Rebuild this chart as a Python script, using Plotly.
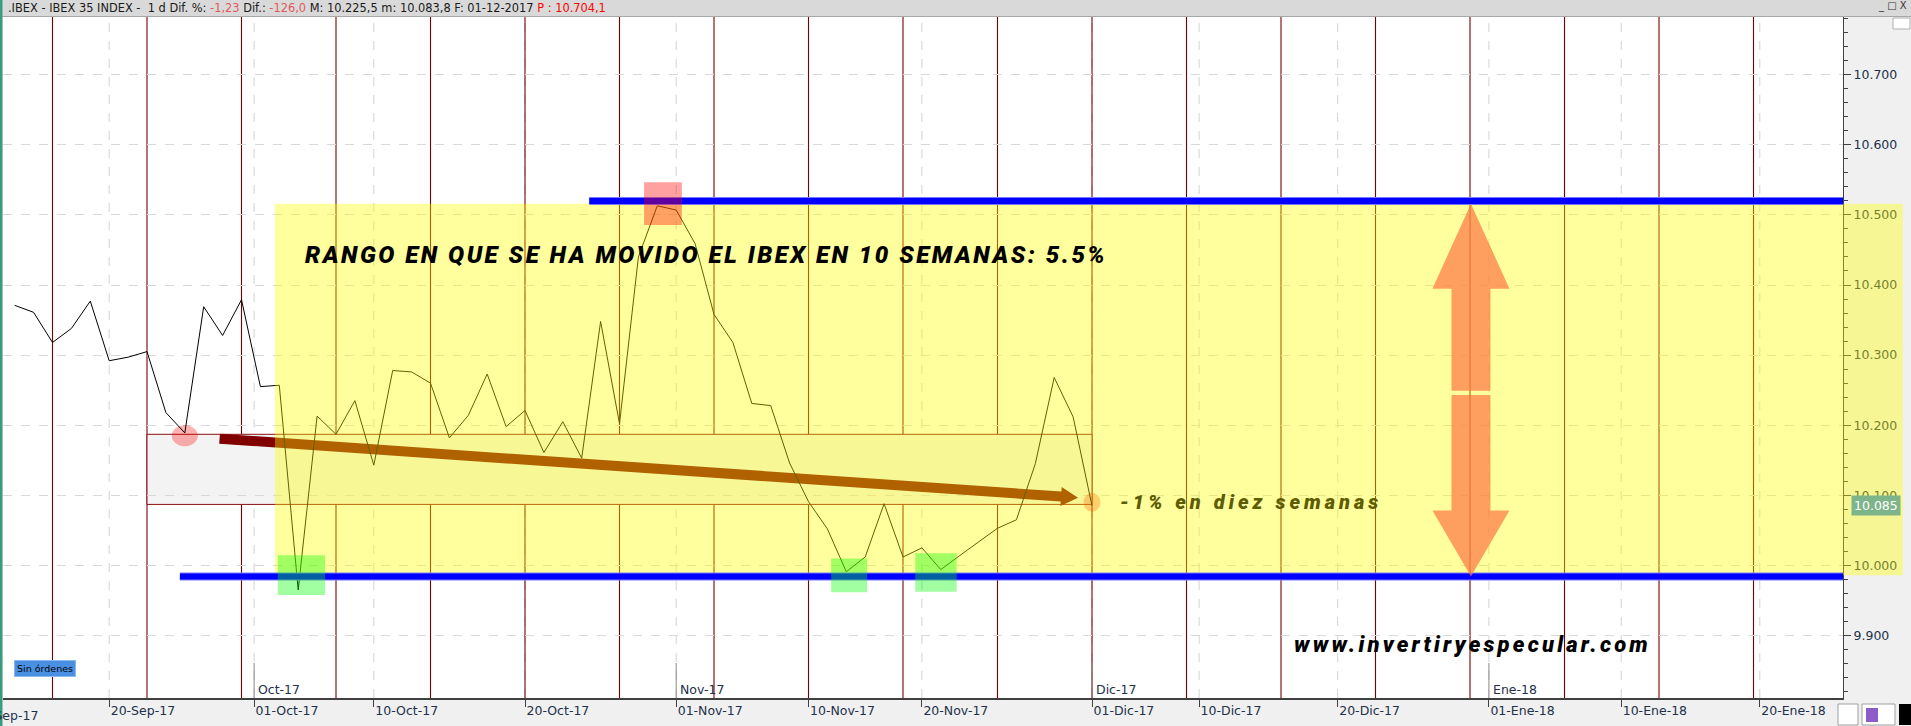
import numpy as np
import pandas as pd
import plotly.graph_objects as go

# ---------------- data ----------------
dates = ["2017-09-13", "2017-09-14", "2017-09-15", "2017-09-18", "2017-09-19", "2017-09-20",
         "2017-09-21", "2017-09-22", "2017-09-25", "2017-09-26", "2017-09-27", "2017-09-28",
         "2017-09-29",
         "2017-10-02", "2017-10-03", "2017-10-04", "2017-10-05", "2017-10-06", "2017-10-09",
         "2017-10-10", "2017-10-11", "2017-10-12", "2017-10-13", "2017-10-16", "2017-10-17",
         "2017-10-18", "2017-10-19", "2017-10-20", "2017-10-23", "2017-10-24", "2017-10-25",
         "2017-10-26", "2017-10-27", "2017-10-30", "2017-10-31",
         "2017-11-01", "2017-11-02", "2017-11-03", "2017-11-06", "2017-11-07", "2017-11-08",
         "2017-11-09", "2017-11-10", "2017-11-13", "2017-11-14", "2017-11-15", "2017-11-16",
         "2017-11-17", "2017-11-20", "2017-11-21", "2017-11-22", "2017-11-23", "2017-11-24",
         "2017-11-27", "2017-11-28", "2017-11-29", "2017-11-30",
         "2017-12-01"]
close = [10371, 10361, 10318, 10338, 10377, 10292, 10297, 10305, 10218, 10189, 10369, 10328,
         10379,
         10255, 10257, 9965, 10213, 10187, 10235, 10143, 10278, 10276, 10260, 10182, 10214,
         10273, 10198, 10221, 10161, 10205, 10153, 10348, 10202, 10440, 10513,
         10507, 10459, 10358, 10318, 10231, 10228, 10146, 10091, 10052, 9991, 10012, 10088,
         10012, 10025, 9994, 10014, 10034, 10053, 10065, 10145, 10268, 10212,
         10085]

tick_dates = ["2017-09-10", "2017-09-20", "2017-10-01", "2017-10-10", "2017-10-20", "2017-11-01",
              "2017-11-10", "2017-11-20", "2017-12-01", "2017-12-10", "2017-12-20", "2018-01-01",
              "2018-01-10", "2018-01-20"]
tick_labels = ["10-Sep-17", "20-Sep-17", "01-Oct-17", "10-Oct-17", "20-Oct-17", "01-Nov-17",
               "10-Nov-17", "20-Nov-17", "01-Dic-17", "10-Dic-17", "20-Dic-17", "01-Ene-18",
               "10-Ene-18", "20-Ene-18"]
month_dates = ["2017-10-01", "2017-11-01", "2017-12-01", "2018-01-01"]
month_labels = ["Oct-17", "Nov-17", "Dic-17", "Ene-18"]

range_high = 10520      # upper blue line
range_low = 9984        # lower blue line
box_high = 10187        # grey box (late-Sep low) top
box_low = 10087         # grey box bottom (last close level)

header_parts = [(".IBEX - IBEX 35 INDEX -  1 d Dif. %: ", "#1a1a1a"), ("-1,23", "#E05A5A"),
                (" Dif.: ", "#1a1a1a"), ("-126,0", "#E05A5A"),
                (" M: 10.225,5 m: 10.083,8 F: 01-12-2017 ", "#1a1a1a"), ("P : 10.704,1", "#FF0000")]
title_text = "RANGO EN QUE SE HA MOVIDO EL IBEX EN 10 SEMANAS: 5.5%"
note_text = "-1% en diez semanas"
site_text = "www.invertiryespecular.com"

# ---------------- trading-day axis ----------------
ORIGIN = np.datetime64("2017-09-11")


def tpos(d):
    ts = pd.Timestamp(d)
    wd = ts.weekday()
    if wd >= 5:  # weekend dates sit between Friday and Monday
        fri = ts - pd.Timedelta(days=wd - 4)
        return tpos(fri) + (wd - 4) / 3.0
    return float(np.busday_count(ORIGIN, np.datetime64(ts.date())))


x_vals = [tpos(d) for d in dates]
tick_pos = [tpos(d) for d in tick_dates]
fridays = [tpos(d) for d in pd.date_range("2017-09-15", "2018-01-26", freq="W-FRI")]

# ---------------- geometry helpers ----------------
XR = [1.381, 98.735]
YR = [9810.84, 10782.31]
L, R, T, B = 3, 1843, 17, 698
PW, PH = R - L, B - T
sx = PW / (XR[1] - XR[0])
sy = PH / (YR[1] - YR[0])


def to_px(x, v):
    return L + (x - XR[0]) * sx, B - (v - YR[0]) * sy


def from_px(px, py):
    return XR[0] + (px - L) / sx, YR[0] + (B - py) / sy


def xpap(px):
    return (px - L) / PW


def ypap(py):
    return (B - py) / PH


def vpap(v):
    return (v - YR[0]) / (YR[1] - YR[0])


def arrow_path(x0, v0, x1, v1, hw, head_hw, head_len):
    p0 = np.array(to_px(x0, v0))
    p1 = np.array(to_px(x1, v1))
    d = p1 - p0
    u = d / np.hypot(*d)
    n = np.array([-u[1], u[0]])
    pb = p1 - u * head_len
    pts = [p0 + n * hw, pb + n * hw, pb + n * head_hw, p1, pb - n * head_hw, pb - n * hw, p0 - n * hw]
    return "M " + " L ".join("%.4f,%.3f" % from_px(*p) for p in pts) + " Z"


def circle(xc, vc, wpx, hpx, color, layer="between"):
    return dict(type="circle", xref="x", yref="y", x0=xc - wpx / 2 / sx, x1=xc + wpx / 2 / sx,
                y0=vc - hpx / 2 / sy, y1=vc + hpx / 2 / sy, fillcolor=color,
                line=dict(width=0), layer=layer)


shapes = []
# grey box with dark red border
shapes.append(dict(type="rect", xref="x", yref="y", x0=tpos("2017-09-22"), x1=tpos("2017-12-01"),
                   y0=box_low, y1=box_high, fillcolor="#F3F3F3",
                   line=dict(color="#8B1010", width=1), layer="below"))
# dashed date gridlines (drawn under the weekly lines)
for p in tick_pos[1:]:
    shapes.append(dict(type="line", xref="x", yref="paper", x0=p, x1=p, y0=0, y1=1,
                       line=dict(color="#D2D2D2", width=1, dash="dash"), layer="below"))
# weekly vertical lines
for p in fridays:
    shapes.append(dict(type="line", xref="x", yref="paper", x0=p, x1=p, y0=0, y1=1,
                       line=dict(color="#7A0000", width=1.1), layer="between"))
# month marker segments
for m in month_dates:
    p = tpos(m)
    shapes.append(dict(type="line", xref="x", yref="paper", x0=p, x1=p, y0=0, y1=ypap(663),
                       line=dict(color="#8a8a8a", width=1), layer="between"))
# pink circles
shapes.append(circle(tpos("2017-09-26"), 10185, 26, 21, "rgba(255,0,0,0.30)"))
shapes.append(circle(tpos("2017-12-01"), 10090, 17, 19, "rgba(255,0,0,0.30)"))
# brown arrow
shapes.append(dict(type="path", xref="x", yref="y",
                   path=arrow_path(12.84, 10180.7, 58.26, 10096.6, 5, 9.5, 17),
                   fillcolor="#800000", line=dict(width=0), layer="between"))
# yellow range zone
shapes.append(dict(type="rect", xref="x", yref="y", x0=15.77, x1=XR[1] + 1, y0=9986, y1=10516,
                   fillcolor="rgba(255,255,0,0.38)", line=dict(width=0), layer="above"))
shapes.append(dict(type="rect", xref="paper", yref="paper", x0=1, x1=xpap(1903),
                   y0=vpap(9986), y1=vpap(10516),
                   fillcolor="rgba(255,255,0,0.38)", line=dict(width=0), layer="above"))
# blue range lines
for x0, lv in [(32.4, range_high), (10.74, range_low)]:
    shapes.append(dict(type="line", xref="x", yref="y", x0=x0, x1=XR[1] + 1, y0=lv, y1=lv,
                       line=dict(color="#7878FF", width=8), layer="above"))
    shapes.append(dict(type="line", xref="x", yref="y", x0=x0, x1=XR[1] + 1, y0=lv, y1=lv,
                       line=dict(color="#0000FF", width=6), layer="above"))
# highlight squares
shapes.append(dict(type="rect", xref="x", yref="y", x0=35.3, x1=37.3, y0=10485.7, y1=10546.6,
                   fillcolor="rgba(255,0,0,0.37)", line=dict(width=0), layer="above"))
for gx0, gx1, gy0, gy1 in [(15.92, 18.42, 9957.8, 10014.4), (45.2, 47.1, 9961.6, 10010),
                           (49.65, 51.84, 9962.5, 10017.3)]:
    shapes.append(dict(type="rect", xref="x", yref="y", x0=gx0, x1=gx1, y0=gy0, y1=gy1,
                       fillcolor="rgba(0,255,0,0.37)", line=dict(width=0), layer="above"))
# orange double arrow
ax_c = tpos("2017-12-29") + 0.05
shapes.append(dict(type="path", xref="x", yref="y",
                   path=arrow_path(ax_c, 10249, ax_c, 10516, 19.5, 38.5, 85),
                   fillcolor="rgba(255,118,69,0.7)", line=dict(width=0), layer="above"))
shapes.append(dict(type="path", xref="x", yref="y",
                   path=arrow_path(ax_c, 10243, ax_c, 9984, 19.5, 38.5, 66),
                   fillcolor="rgba(255,118,69,0.7)", line=dict(width=0), layer="above"))
# header bar and frame decorations
shapes.append(dict(type="rect", xref="paper", yref="paper", x0=xpap(0), x1=xpap(1911),
                   y0=ypap(16), y1=ypap(0), fillcolor="#D9D9D9",
                   line=dict(width=0), layer="above"))
shapes.append(dict(type="line", xref="paper", yref="paper", x0=xpap(0), x1=xpap(1911),
                   y0=ypap(16.5), y1=ypap(16.5), line=dict(color="#A8A8A8", width=1), layer="above"))
shapes.append(dict(type="rect", xref="paper", yref="paper", x0=xpap(0), x1=xpap(2.5),
                   y0=ypap(726), y1=ypap(0), fillcolor="#3A9C7E", line=dict(width=0), layer="above"))
shapes.append(dict(type="rect", xref="paper", yref="paper", x0=xpap(1893), x1=xpap(1910),
                   y0=ypap(29), y1=ypap(18), fillcolor="white",
                   line=dict(color="#B0B0B0", width=1), layer="above"))
# bottom-right toolbar icons
shapes.append(dict(type="rect", xref="paper", yref="paper", x0=xpap(1838), x1=xpap(1858),
                   y0=ypap(725), y1=ypap(704), fillcolor="white",
                   line=dict(color="#A0A0A0", width=1), layer="above"))
shapes.append(dict(type="rect", xref="paper", yref="paper", x0=xpap(1862), x1=xpap(1895),
                   y0=ypap(725), y1=ypap(704), fillcolor="white",
                   line=dict(color="#A0A0A0", width=1), layer="above"))
shapes.append(dict(type="rect", xref="paper", yref="paper", x0=xpap(1866), x1=xpap(1878),
                   y0=ypap(722), y1=ypap(708), fillcolor="#8E5CC8",
                   line=dict(width=0), layer="above"))
shapes.append(dict(type="rect", xref="paper", yref="paper", x0=xpap(1899), x1=xpap(1911),
                   y0=ypap(725), y1=ypap(704), fillcolor="black",
                   line=dict(width=0), layer="above"))

# ---------------- figure ----------------
fig = go.Figure()
fig.add_trace(go.Scatter(x=x_vals, y=close, mode="lines",
                         line=dict(color="black", width=1), hoverinfo="skip"))

UI_FONT = "DejaVu Sans"
HEAVY = dict(family="Roboto, Liberation Sans, sans-serif", weight=900, style="italic")


def spaced(txt, px):
    return "<span style='letter-spacing:%.1fpx'>%s</span>" % (px, txt)


annotations = []
header_html = "".join("<span style='color:%s'>%s</span>" % (c, t) for t, c in header_parts)
annotations.append(dict(xref="paper", yref="paper", x=xpap(6), y=ypap(8), xanchor="left",
                        yanchor="middle", text=header_html, showarrow=False,
                        font=dict(family=UI_FONT, size=11.4, color="#1a1a1a")))
annotations.append(dict(xref="paper", yref="paper", x=xpap(1909), y=ypap(6), xanchor="right",
                        yanchor="middle", text="_ \u25a1 X", showarrow=False,
                        font=dict(family=UI_FONT, size=10, color="#333333")))
annotations.append(dict(xref="paper", yref="paper", x=xpap(45), y=ypap(668), xanchor="center",
                        yanchor="middle", text="Sin órdenes", showarrow=False,
                        bgcolor="#4A90E2", bordercolor="#8DBBF0", borderwidth=1, borderpad=2,
                        font=dict(family=UI_FONT, size=9.5, color="black")))
annotations.append(dict(xref="paper", yref="y", x=xpap(1851), y=close[-1], xanchor="left",
                        yanchor="middle", text="{:,.0f}".format(close[-1]).replace(",", "."),
                        showarrow=False, bgcolor="#7DB48A", borderpad=2,
                        font=dict(family=UI_FONT, size=12.5, color="white")))
for m, lab in zip(month_dates, month_labels):
    annotations.append(dict(xref="x", yref="paper", x=tpos(m), y=ypap(689), xanchor="left",
                            yanchor="middle", xshift=2, text=lab, showarrow=False,
                            font=dict(family=UI_FONT, size=12.5, color="#23304a")))
# first date label falls left of the visible range
annotations.append(dict(xref="paper", yref="paper", x=xpap(to_px(tick_pos[0], 0)[0]), y=ypap(715),
                        xanchor="left", yanchor="middle", xshift=1, text=tick_labels[0],
                        showarrow=False, font=dict(family=UI_FONT, size=12.5, color="#23304a")))
annotations.append(dict(xref="x", yref="y", x=from_px(303, 0)[0], y=from_px(0, 254.5)[1],
                        xanchor="left", yanchor="middle", text=spaced(title_text, 2.5),
                        showarrow=False, font=dict(size=24, color="black", **HEAVY)))
annotations.append(dict(xref="x", yref="y", x=from_px(1118, 0)[0], y=from_px(0, 502)[1],
                        xanchor="left", yanchor="middle", text=spaced(note_text, 4.0),
                        showarrow=False, font=dict(size=20, color="#5E5C00", **HEAVY)))
annotations.append(dict(xref="x", yref="y", x=from_px(1292, 0)[0], y=from_px(0, 644)[1],
                        xanchor="left", yanchor="middle", text=spaced(site_text, 3.2),
                        showarrow=False, font=dict(size=22, color="black", **HEAVY)))

fig.update_layout(
    width=1911, height=726,
    margin=dict(l=L, r=1911 - R, t=T, b=726 - B, pad=0),
    paper_bgcolor="#F0F0F0", plot_bgcolor="white",
    showlegend=False, separators=",.",
    shapes=shapes, annotations=annotations,
    xaxis=dict(range=XR, tickmode="array", tickvals=tick_pos[1:], ticktext=tick_labels[1:],
               ticks="outside", ticklen=7, tickcolor="#404040", ticklabelposition="outside right",
               showline=True, linecolor="#404040", linewidth=2,
               showgrid=False, zeroline=False,
               tickfont=dict(family=UI_FONT, size=12.5, color="#23304a")),
    yaxis=dict(range=YR, side="right", dtick=100, tickformat=",d",
               ticks="outside", ticklen=7, tickcolor="#404040",
               minor=dict(dtick=20, ticks="outside", ticklen=4, tickcolor="#404040", showgrid=False),
               showline=True, linecolor="#404040", linewidth=1,
               showgrid=True, gridcolor="#D8D8D8", griddash="dash", gridwidth=1,
               zeroline=False, tickfont=dict(family=UI_FONT, size=12.5, color="#23304a")),
)

fig.write_html("out.html", include_plotlyjs=True, config={"displayModeBar": False},
               post_script="document.body.style.margin='0';document.body.style.overflow='hidden';")
